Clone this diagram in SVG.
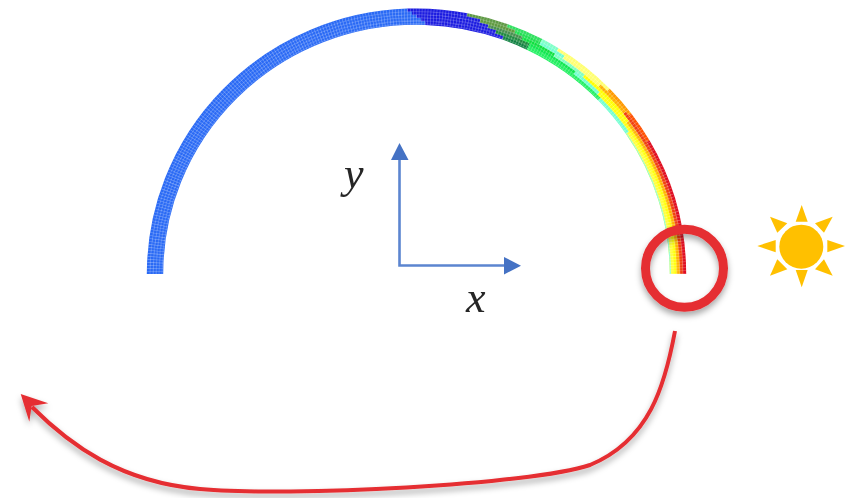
<svg xmlns="http://www.w3.org/2000/svg" width="850" height="498" viewBox="0 0 850 498">
<style>
.lab{font-family:"Liberation Serif","DejaVu Serif",serif;font-style:italic;font-size:44px;fill:#262626}
.ax{fill:none;stroke:#5c85d0;stroke-width:2.6}
.axh{fill:#4472c4}
.sun{fill:#ffc000}
.red{fill:none;stroke:#e52e32}
.m{fill:none;stroke-width:3.6}
.w{fill:none;stroke:#fff;stroke-width:.5;stroke-opacity:.35}
</style>
<defs>
<filter id="soft" x="-5%" y="-5%" width="110%" height="110%"><feGaussianBlur stdDeviation="0.5"/></filter>
<filter id="arch-soft" x="-5%" y="-5%" width="110%" height="110%"><feGaussianBlur stdDeviation="0.7"/></filter>
<filter id="shadow" x="-20%" y="-20%" width="140%" height="140%"><feDropShadow dx="0" dy="4" stdDeviation="3" flood-color="#000" flood-opacity="0.35"/></filter>
<path id="a" pathLength="180" d="M684.400 274A267.900 263.900 0 0 0 148.600 274"/>
<path id="b" pathLength="180" d="M681.200 274A264.700 260.700 0 0 0 151.800 274"/>
<path id="c" pathLength="180" d="M678 274A261.500 257.500 0 0 0 155 274"/>
<path id="d" pathLength="180" d="M674.800 274A258.300 254.300 0 0 0 158.200 274"/>
<path id="e" pathLength="180" d="M671.600 274A255.100 251.100 0 0 0 161.400 274"/>
<path id="f" pathLength="180" d="M670.400 274A253.900 249.900 0 0 0 162.600 274"/>
</defs>
<g id="arch" filter="url(#arch-soft)">
<g class="m">
<use href="#a" stroke="#2a6af5" stroke-dasharray="88 400" stroke-dashoffset="-92"/>
<use href="#a" stroke="#1c1ce0" stroke-dasharray="13 400" stroke-dashoffset="-79"/>
<use href="#a" stroke="#5f9a45" stroke-dasharray="9 400" stroke-dashoffset="-70"/>
<use href="#a" stroke="#30e060" stroke-dasharray="8 400" stroke-dashoffset="-62"/>
<use href="#a" stroke="#80ffc8" stroke-dasharray="4 400" stroke-dashoffset="-58"/>
<use href="#a" stroke="#ffff70" stroke-dasharray="14 400" stroke-dashoffset="-44"/>
<use href="#a" stroke="#ff9900" stroke-dasharray="7 400" stroke-dashoffset="-37"/>
<use href="#a" stroke="#ff5000" stroke-dasharray="7 400" stroke-dashoffset="-30"/>
<use href="#a" stroke="#e01020" stroke-dasharray="30 400"/>
<use href="#b" stroke="#2a6af5" stroke-dasharray="89 400" stroke-dashoffset="-91"/>
<use href="#b" stroke="#1c1ce0" stroke-dasharray="15 400" stroke-dashoffset="-76"/>
<use href="#b" stroke="#609a40" stroke-dasharray="8 400" stroke-dashoffset="-68"/>
<use href="#b" stroke="#20e050" stroke-dasharray="6 400" stroke-dashoffset="-62"/>
<use href="#b" stroke="#70ffd0" stroke-dasharray="6 400" stroke-dashoffset="-56"/>
<use href="#b" stroke="#ffff70" stroke-dasharray="10 400" stroke-dashoffset="-46"/>
<use href="#b" stroke="#ffb000" stroke-dasharray="8 400" stroke-dashoffset="-38"/>
<use href="#b" stroke="#f04010" stroke-dasharray="38 400"/>
<use href="#c" stroke="#2a6af5" stroke-dasharray="90 400" stroke-dashoffset="-90"/>
<use href="#c" stroke="#1c1ce0" stroke-dasharray="16 400" stroke-dashoffset="-74"/>
<use href="#c" stroke="#4a9050" stroke-dasharray="8 400" stroke-dashoffset="-66"/>
<use href="#c" stroke="#10e040" stroke-dasharray="8 400" stroke-dashoffset="-58"/>
<use href="#c" stroke="#80ffc0" stroke-dasharray="8 400" stroke-dashoffset="-50"/>
<use href="#c" stroke="#ffff00" stroke-dasharray="14 400" stroke-dashoffset="-36"/>
<use href="#c" stroke="#ffb400" stroke-dasharray="36 400"/>
<use href="#d" stroke="#2a6af5" stroke-dasharray="91 400" stroke-dashoffset="-89"/>
<use href="#d" stroke="#1c1ce0" stroke-dasharray="17 400" stroke-dashoffset="-72"/>
<use href="#d" stroke="#208a40" stroke-dasharray="8 400" stroke-dashoffset="-64"/>
<use href="#d" stroke="#10e850" stroke-dasharray="12 400" stroke-dashoffset="-52"/>
<use href="#d" stroke="#70ffd0" stroke-dasharray="7 400" stroke-dashoffset="-45"/>
<use href="#d" stroke="#ffff10" stroke-dasharray="45 400"/>
<use href="#e" stroke="#2a6af5" stroke-dasharray="92 400" stroke-dashoffset="-88"/>
<use href="#e" stroke="#1c1ce0" stroke-dasharray="18 400" stroke-dashoffset="-70"/>
<use href="#e" stroke="#108040" stroke-dasharray="6 400" stroke-dashoffset="-64"/>
<use href="#e" stroke="#20f060" stroke-dasharray="20 400" stroke-dashoffset="-44"/>
<use href="#e" stroke="#70ffd0" stroke-dasharray="10 400" stroke-dashoffset="-34"/>
<use href="#e" stroke="#ffff40" stroke-dasharray="34 400"/>
<use href="#f" stroke="#90ffd0" stroke-width="1.2" stroke-dasharray="34 400"/>
</g>
<g class="w">
<path d="M683 274A266.500 262.500 0 0 0 150 274"/>
<path d="M680 274A263.500 259.500 0 0 0 153 274"/>
<path d="M677 274A260.500 256.500 0 0 0 156 274"/>
<path d="M674 274A257.500 253.500 0 0 0 159 274"/>
<path d="M671 274A254.500 250.500 0 0 0 162 274"/>
<path d="M678 274A261.500 257.500 0 0 0 155 274" pathLength="840" style="stroke-width:16;stroke-dasharray:.6 2.4"/>
</g>
</g>
<g id="axes" filter="url(#soft)">
<path class="ax" d="M399.500 158V265.500H506"/>
<path class="axh" d="M399.500 143L408.500 160H391L399.500 143Z"/>
<path class="axh" d="M521 265.700L504 274.500V257Z"/>
</g>
<g id="label-y" filter="url(#soft)"><text class="lab" x="344" y="188">y</text></g>
<g id="label-x" filter="url(#soft)"><text class="lab" x="466" y="312">x</text></g>
<g id="sun" class="sun" filter="url(#soft)">
<circle cx="801.300" cy="246.700" r="22"/>
<path d="M801.700 205L807.700 221.700H795.700Z"/>
<path d="M801.700 287.300L807.700 270H795.700Z"/>
<path d="M845 246L827.300 240V252.300Z"/>
<path d="M757.300 246L775.700 240V252.300Z"/>
<path d="M770 216.700L787.300 223.300L777.300 232.700Z"/>
<path d="M832.700 216.700L815 223.300L824 232.700Z"/>
<path d="M770 275.700L777.300 259.300L787.300 269.300Z"/>
<path d="M832.700 275.700L824 259.300L815 269.300Z"/>
</g>
<g id="ring" filter="url(#shadow)">
<circle class="red" cx="684.500" cy="268.300" r="39" stroke-width="9"/>
</g>
<g id="connectors" filter="url(#shadow)">
<path class="red" stroke-width="4" d="M675 331C665 385 650 440 590 465C530 485 290 497 200 489C120 482 70 445 32 407"/>
<path fill="#e52e32" d="M20.700 394L48.300 403.300L31.700 406L29.300 421.700Z"/>
</g>
</svg>
